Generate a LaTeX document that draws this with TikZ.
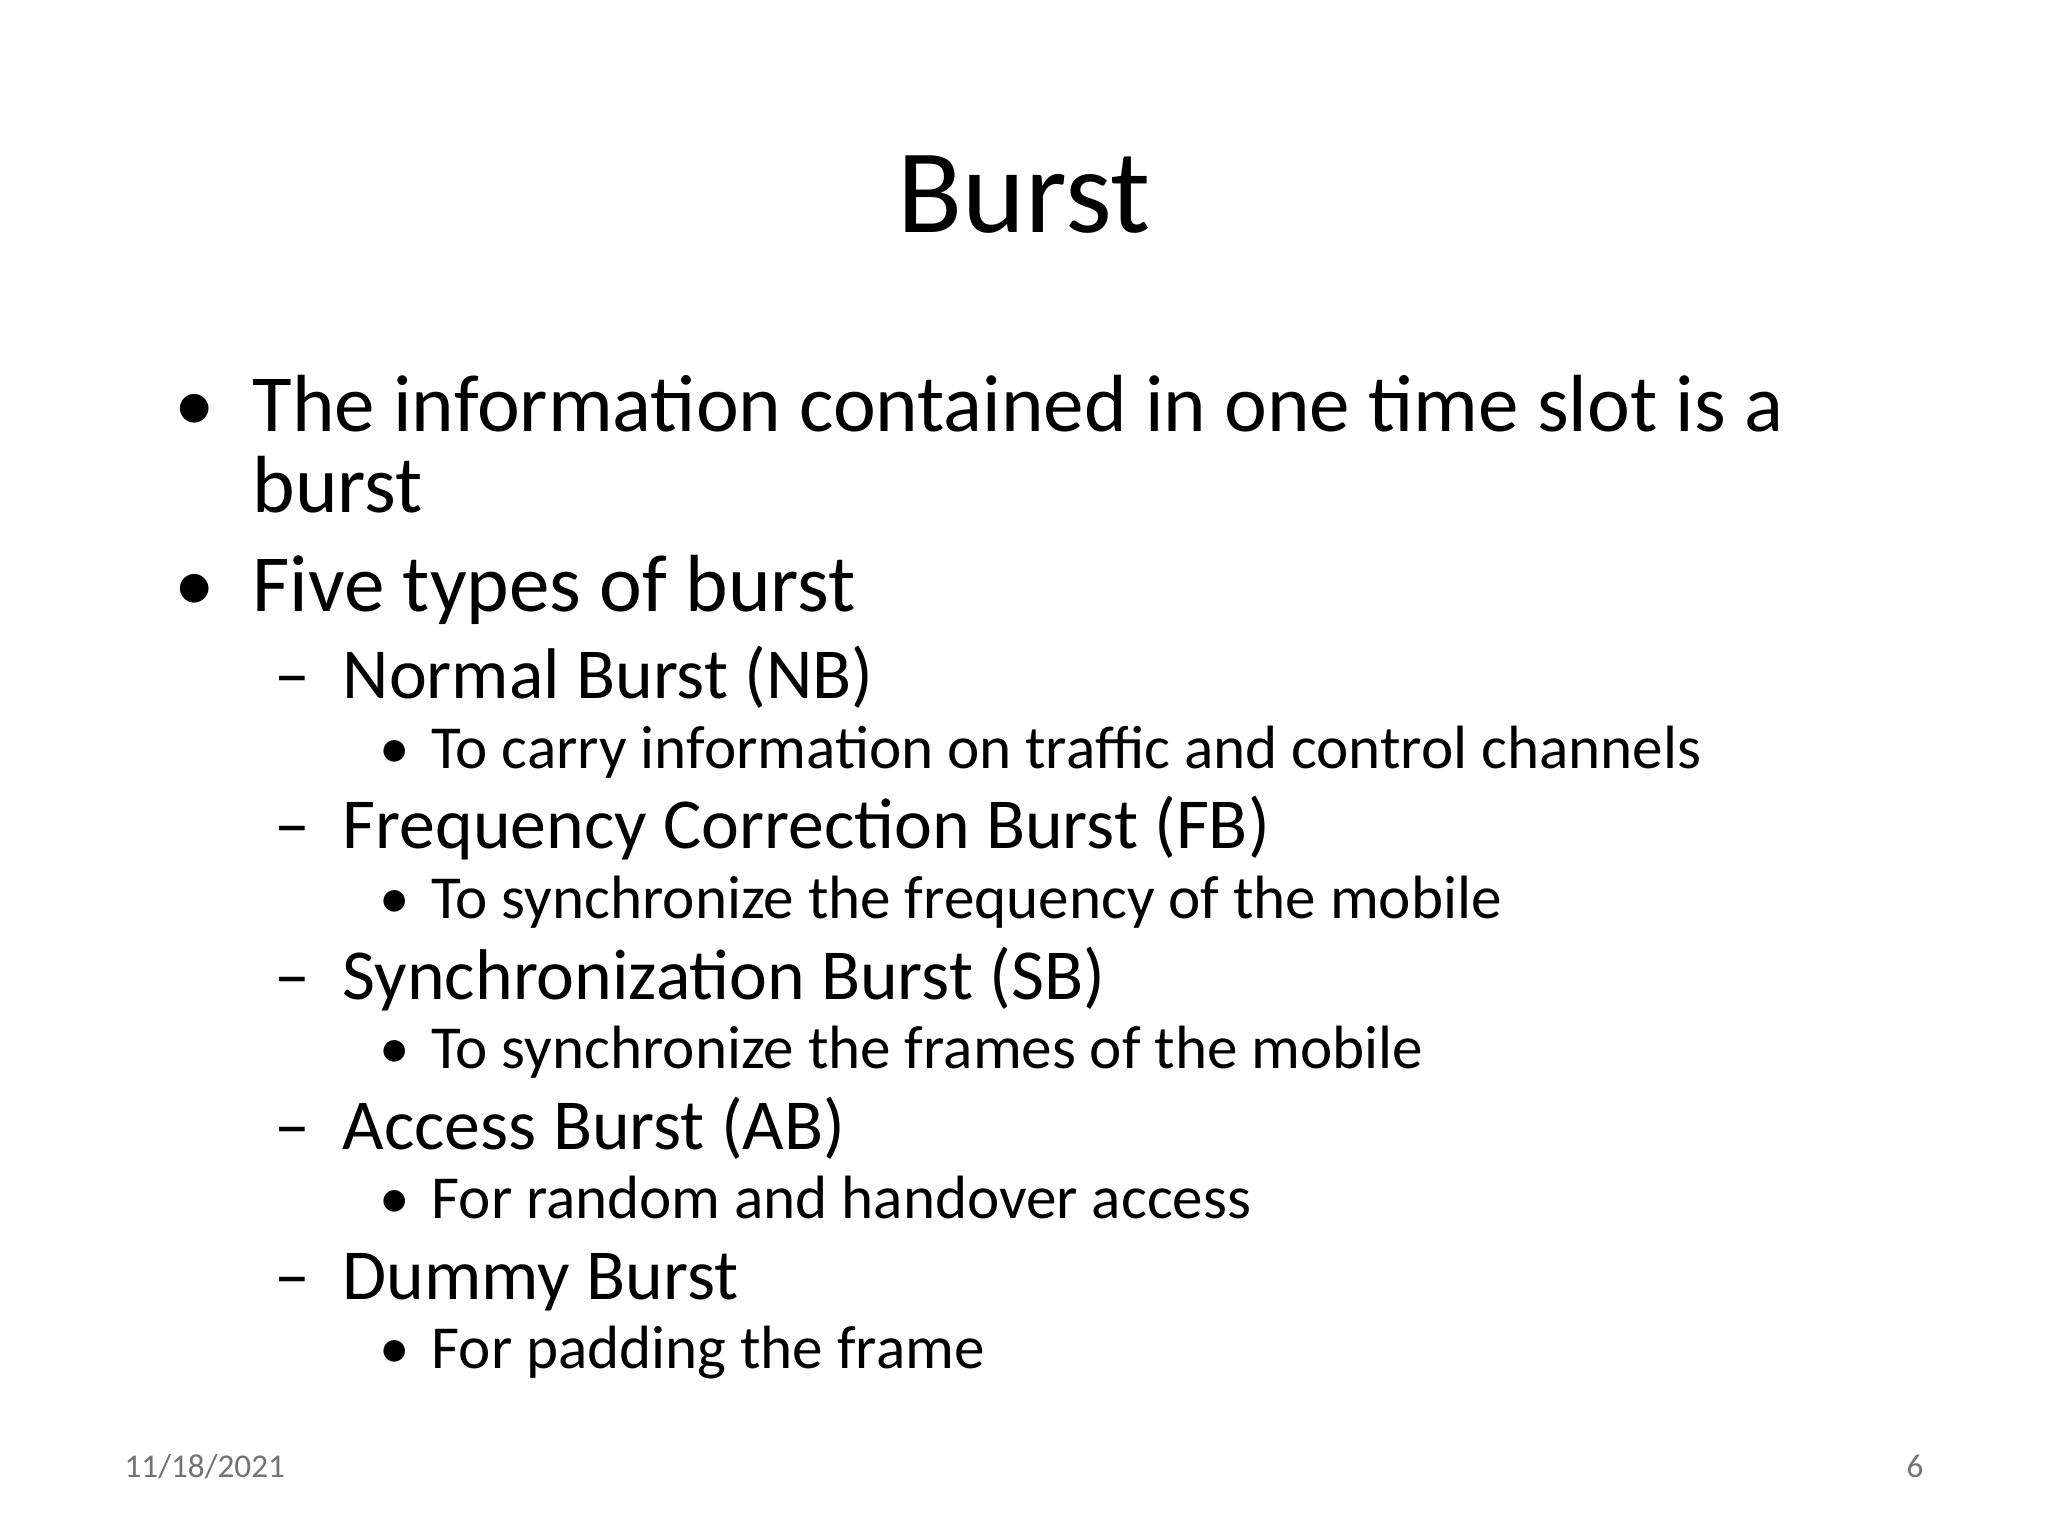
\documentclass[tikz,border=0pt]{standalone}
\usepackage{fontspec}
\setmainfont{Carlito}
\begin{document}
\begin{tikzpicture}[x={(0.01728cm,0)},y={(0,-0.01728cm)},
  t/.style={anchor=base west,inner sep=0pt},
  la/.style={t,font=\fontsize{30.5}{36}\selectfont},
  lb/.style={t,font=\fontsize{27}{32}\selectfont},
  lc/.style={t,font=\fontsize{23}{28}\selectfont},
  ft/.style={inner sep=0pt,anchor=base,font=\fontsize{12.5}{15}\selectfont,text=black!55}]
\useasboundingbox[fill=white] (0,0) rectangle (1568,1176);
\node[inner sep=0pt,anchor=base,font=\fontsize{45}{54}\selectfont] (title) at (784,178) {Burst};
\node[la] (b1) at (133,330) {•};
\node[la] (l1) at (193,330) {The information contained in one time slot is a};
\node[la] (l1b) at (193,392) {burst};
\node[la] (b2) at (133,468) {•};
\node[la] (l2) at (193,468) {Five types of burst};
\foreach \y/\a/\b [count=\i] in {535/Normal Burst (NB)/To carry information on traffic and control channels,
  650/Frequency Correction Burst (FB)/To synchronize the frequency of the mobile,
  765/Synchronization Burst (SB)/To synchronize the frames of the mobile,
  880/Access Burst (AB)/For random and handover access,
  995/Dummy Burst/For padding the frame}{
  \node[lb] (d\i) at (210,\y) {–};
  \node[lb] (s\i) at (262,\y) {\a};
  \node[lc] (e\i) at (290,\y+53) {•};
  \node[lc] (f\i) at (330,\y+53) {\b};
}
\node[ft,anchor=base west] (date) at (95,1131) {11/18/2021};
\node[ft,anchor=base east] (num) at (1473,1131) {6};
\end{tikzpicture}
\end{document}
